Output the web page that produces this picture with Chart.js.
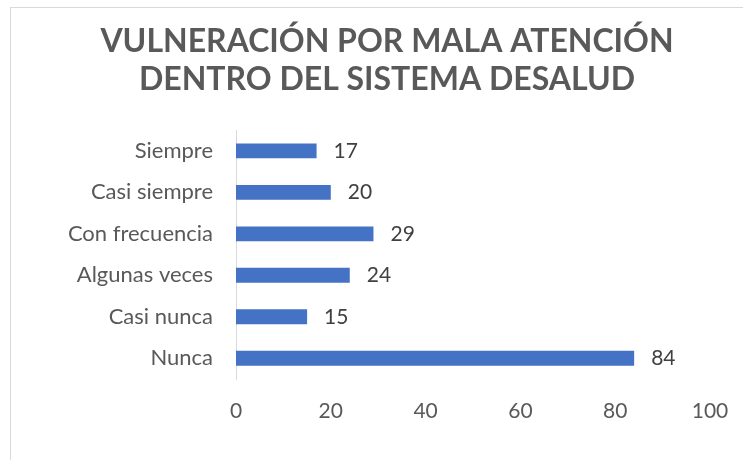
<!DOCTYPE html>
<html>
<head>
<meta charset="utf-8">
<script src="https://cdn.jsdelivr.net/npm/chart.js@4/dist/chart.umd.min.js"></script>
<style>
  html, body { margin: 0; padding: 0; background: #fff; overflow: hidden; }
  #wrap { position: relative; width: 743px; height: 460px; overflow: hidden; }
  #frame { position: absolute; left: 10px; top: 7px; right: -2px; bottom: -2px;
           border-top: 1px solid #d9d9d9; border-left: 1px solid #d9d9d9; }
  canvas { position: absolute; left: 0; top: 0; }
</style>
</head>
<body>
<div id="wrap">
  <div id="frame"></div>
  <canvas id="barChart" width="743" height="460"></canvas>
</div>
<script>
// categories, top to bottom as in the picture
const categories = ["Siempre", "Casi siempre", "Con frecuencia", "Algunas veces", "Casi nunca", "Nunca"];
const counts = [17, 20, 29, 24, 15, 84];
const xTicks = [0, 20, 40, 60, 80, 100];
const titleLines = ["VULNERACIÓN POR MALA ATENCIÓN", "DENTRO DEL SISTEMA DESALUD"];

const fontFamily = 'Lato, sans-serif';

// simple value labels to the right of each bar
const valueLabels = {
    id: 'valueLabels',
    afterDatasetsDraw(chart) {
        const ctx = chart.ctx;
        const meta = chart.getDatasetMeta(0);
        ctx.save();
        ctx.font = '21px ' + fontFamily;
        ctx.fillStyle = '#404040';
        ctx.textAlign = 'left';
        ctx.textBaseline = 'middle';
        meta.data.forEach((bar, i) => {
            ctx.fillText(String(counts[i]), bar.x + 17, bar.y);
        });
        ctx.restore();
    }
};

const ctx = document.getElementById('barChart').getContext('2d');
const myChart = new Chart(ctx, {
    type: 'bar',
    data: {
        labels: categories,
        datasets: [{
            label: 'Frecuencia',
            data: counts,
            backgroundColor: '#4472C4',
            borderWidth: 0,
            barPercentage: 0.6,
            categoryPercentage: 0.6
        }]
    },
    options: {
        indexAxis: 'y',
        responsive: false,
        animation: false,
        layout: {
            padding: { top: 10, left: 64, right: 33, bottom: 0 }
        },
        plugins: {
            legend: { display: false },
            tooltip: { enabled: false },
            title: {
                display: true,
                text: titleLines,
                color: '#595959',
                font: { family: fontFamily, size: 32, weight: 'bold', lineHeight: 1.19 },
                padding: { top: 13, bottom: 31 }
            }
        },
        scales: {
            x: {
                min: 0,
                max: 100,
                afterBuildTicks(scale) {
                    scale.ticks = xTicks.map(v => ({ value: v }));
                },
                afterFit(scale) {
                    scale.height = 81;
                    scale.paddingLeft = 0;
                    scale.paddingRight = 0;
                },
                grid: { display: false, drawTicks: false },
                border: { display: false },
                ticks: {
                    color: '#595959',
                    padding: 20,
                    font: { family: fontFamily, size: 21 }
                }
            },
            y: {
                afterFit(scale) { scale.width = 172; },
                grid: { display: false, drawTicks: false },
                border: { display: true, color: '#d9d9d9', width: 1 },
                ticks: {
                    color: '#595959',
                    padding: 23,
                    font: { family: fontFamily, size: 22 }
                }
            }
        }
    },
    plugins: [valueLabels]
});
</script>
</body>
</html>
